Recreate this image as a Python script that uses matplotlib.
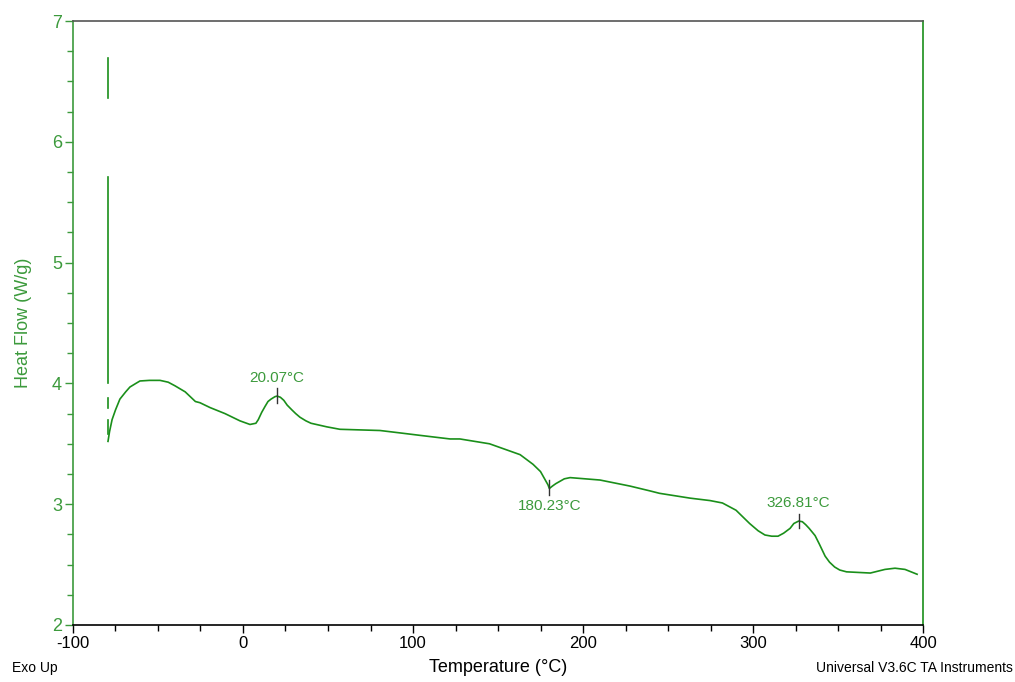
import numpy as np
import matplotlib as mpl
import matplotlib.pyplot as plt
from matplotlib.ticker import MultipleLocator

mpl.rcParams['font.family'] = ['Liberation Sans', 'DejaVu Sans']
mpl.rcParams['axes.unicode_minus'] = False

# DSC trace
temp = [-79.4, -78.5, -77, -75, -72.4, -69, -66.5, -63, -60.6, -55, -48.8, -44, -40,
        -34, -28, -25.3, -19.4, -10.6, -1.8, 4.1, 7.6, 9, 11, 13, 14.7, 16.5, 18.8,
        20.1, 22, 24, 26, 28.8, 31, 33.5, 37, 40, 49.4, 57, 80.6, 92.4, 104, 121.8,
        127.6, 145, 163, 170.6, 175, 177, 179.4, 180.2, 182, 184, 186.5, 189, 192.4,
        210, 227.6, 239.4, 245, 263, 274.7, 282, 290, 298, 303, 307, 311, 314.7, 318,
        321.8, 324, 326.8, 329, 331, 333, 336.5, 339, 342.4, 345, 348, 351, 355, 369,
        377.6, 383.5, 389.4, 396.5]
heat = [3.52, 3.60, 3.70, 3.78, 3.87, 3.93, 3.97, 4.00, 4.02, 4.025, 4.025, 4.01, 3.98,
        3.93, 3.85, 3.84, 3.80, 3.75, 3.69, 3.66, 3.67, 3.70, 3.76, 3.81, 3.85, 3.87, 3.89,
        3.895, 3.885, 3.86, 3.82, 3.78, 3.75, 3.72, 3.69, 3.67, 3.64, 3.62, 3.61, 3.59,
        3.57, 3.54, 3.54, 3.50, 3.41, 3.33, 3.27, 3.22, 3.16, 3.13, 3.15, 3.17, 3.19,
        3.21, 3.22, 3.20, 3.15, 3.11, 3.09, 3.05, 3.03, 3.01, 2.95, 2.84, 2.78, 2.745,
        2.735, 2.735, 2.76, 2.80, 2.84, 2.86, 2.855, 2.83, 2.80, 2.74, 2.67, 2.57, 2.52,
        2.48, 2.455, 2.44, 2.43, 2.46, 2.47, 2.46, 2.42]

# start-up transient drawn as vertical pieces at the start temperature
spike_t = -79.5
spike_lo = [6.36, 4.00, 3.80, 3.58]
spike_hi = [6.69, 5.71, 3.88, 3.70]

peak_t = [20.07, 180.23, 326.81]
peak_y = [3.90, 3.14, 2.86]
peak_lbl = ['20.07°C', '180.23°C', '326.81°C']
lbl_side = [1, -1, 1]

green = '#1a8f1a'
lgreen = '#3c9a3c'

fig = plt.figure(figsize=(10.15, 6.82), dpi=100)
ax = fig.add_axes([0.0719, 0.0836, 0.8375, 0.8856])

ax.plot(temp, heat, color=green, lw=1.2)
for lo, hi in zip(spike_lo, spike_hi):
    ax.plot([spike_t, spike_t], [lo, hi], color=green, lw=1.2)

for t, y, s, d in zip(peak_t, peak_y, peak_lbl, lbl_side):
    ax.plot([t, t], [y - 0.06, y + 0.06], color='#333333', lw=1)
    if d > 0:
        ax.text(t, y + 0.09, s, color=lgreen, fontsize=11, ha='center', va='bottom')
    else:
        ax.text(t, y - 0.1, s, color=lgreen, fontsize=11, ha='center', va='top')

ax.set_xlim(-100, 400)
ax.set_ylim(2, 7)
ax.xaxis.set_major_locator(MultipleLocator(100))
ax.xaxis.set_minor_locator(MultipleLocator(25))
ax.yaxis.set_major_locator(MultipleLocator(1))
ax.yaxis.set_minor_locator(MultipleLocator(0.25))

ax.tick_params(axis='x', which='major', length=6, width=1, color='black',
               labelsize=12, labelcolor='black', pad=2)
ax.tick_params(axis='x', which='minor', length=4, width=1, color='black')
ax.tick_params(axis='y', which='major', length=6, width=1, color=lgreen,
               labelsize=13, labelcolor=lgreen, pad=2)
ax.tick_params(axis='y', which='minor', length=4, width=1, color=lgreen)

ax.spines['left'].set_color(lgreen)
ax.spines['right'].set_color(green)
ax.spines['top'].set_color('#555555')
ax.spines['bottom'].set_color('black')
for sp in ax.spines.values():
    sp.set_linewidth(1.2)

ax.set_xlabel('Temperature (°C)', fontsize=13, labelpad=6)
ax.set_ylabel('Heat Flow (W/g)', fontsize=13, color=lgreen, labelpad=14)

fig.text(0.012, 0.01, 'Exo Up', fontsize=10, ha='left', va='bottom')
fig.text(0.998, 0.01, 'Universal V3.6C TA Instruments', fontsize=10, ha='right', va='bottom')

fig.savefig('out.png', dpi=100)
